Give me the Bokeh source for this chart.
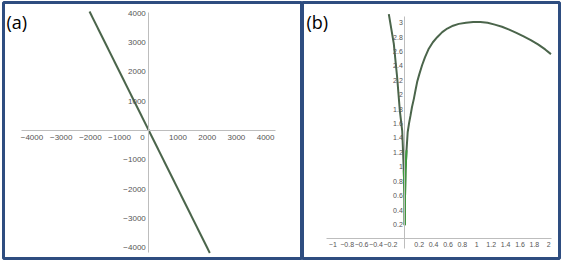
from bokeh.plotting import figure
from bokeh.models import LinearAxis, FixedTicker, CustomJSTickFormatter, Label, Range1d
from bokeh.layouts import row
from bokeh.embed import file_html
from bokeh.resources import INLINE

# ---------------- data ----------------
# panel (a): straight line
a_x = [-2030, 2090]
a_y = [4060, -4180]
a_ticks = [-4000, -3000, -2000, -1000, 1000, 2000, 3000, 4000]

# panel (b): right branch
b_right_x = [0.0, 0.003, 0.01, 0.024, 0.04, 0.06, 0.079, 0.1, 0.125, 0.15, 0.172, 0.2,
             0.24, 0.28, 0.333, 0.39, 0.45, 0.52, 0.59, 0.67, 0.75, 0.85, 0.95, 1.05,
             1.15, 1.25, 1.35, 1.45, 1.55, 1.65, 1.75, 1.85, 1.95, 2.03]
b_right_y = [0.19, 0.58, 0.95, 1.23, 1.48, 1.61, 1.71, 1.83, 1.94, 2.07, 2.18, 2.28,
             2.41, 2.52, 2.64, 2.73, 2.80, 2.87, 2.92, 2.96, 2.985, 3.0, 3.01, 3.01,
             3.0, 2.975, 2.945, 2.905, 2.86, 2.81, 2.76, 2.70, 2.63, 2.565]
# panel (b): left branch
b_left_x = [0.0, -0.004, -0.014, -0.036, -0.069, -0.106, -0.153, -0.222]
b_left_y = [0.19, 0.6, 0.95, 1.50, 1.78, 2.24, 2.71, 3.12]

b_xticks = [-1, -0.8, -0.6, -0.4, -0.2, 0.2, 0.4, 0.6, 0.8, 1, 1.2, 1.4, 1.6, 1.8, 2]
b_yticks = [0.2, 0.4, 0.6, 0.8, 1, 1.2, 1.4, 1.6, 1.8, 2, 2.2, 2.4, 2.6, 2.8, 3]

# ---------------- style ----------------
BORDER = "#2E4D80"
LINE = "#4B654B"
GREEN = "#3E9A3E"
AXIS = "#BDBDBD"
TXT = "#555555"

fmt_code = "return (tick < 0 ? '\u2212' : '') + Math.abs(tick).toString()"


def make_axis(loc, ticks, bounds, size, standoff):
    ax = LinearAxis(fixed_location=loc)
    ax.ticker = FixedTicker(ticks=ticks)
    ax.formatter = CustomJSTickFormatter(code=fmt_code)
    ax.bounds = bounds
    ax.axis_line_color = AXIS
    ax.axis_line_width = 1
    ax.major_tick_line_color = None
    ax.minor_tick_line_color = None
    ax.major_tick_out = 0
    ax.major_tick_in = 0
    ax.major_label_text_font = "Liberation Sans"
    ax.major_label_text_font_size = size
    ax.major_label_text_color = TXT
    ax.major_label_standoff = standoff
    return ax


# ---------------- panel (a) ----------------
pa = figure(width=302, height=264, output_backend="svg", toolbar_location=None,
            x_axis_type=None, y_axis_type=None,
            x_range=Range1d(-4976, 5264), y_range=Range1d(-4369, 4369),
            min_border_left=3, min_border_right=0, min_border_top=2, min_border_bottom=6)
pa.background_fill_color = "white"
pa.border_fill_color = "white"
pa.outline_line_color = BORDER
pa.outline_line_width = 3
pa.add_layout(make_axis(0, a_ticks, (-4360, 4340), "8px", 4), "below")
pa.add_layout(make_axis(0, a_ticks, (-4160, 4030), "8px", 3), "left")
pa.line(a_x, a_y, line_color=LINE, line_width=2)
pa.add_layout(Label(x=0, y=0, x_offset=-4, y_offset=-4, text="0", text_align="right",
                    text_baseline="top", text_font="Liberation Sans",
                    text_font_size="8px", text_color=TXT))
pa.add_layout(Label(x=3, y=249, x_units="screen", y_units="screen", text="(a)",
                    text_align="left", text_baseline="top", text_font="Open Sans",
                    text_font_size="18px", text_color="black"))

# ---------------- panel (b) ----------------
pb = figure(width=264, height=264, output_backend="svg", toolbar_location=None,
            x_axis_type=None, y_axis_type=None,
            x_range=Range1d(-1.4208, 2.1486), y_range=Range1d(-0.2736, 3.2819),
            min_border_left=0, min_border_right=7, min_border_top=2, min_border_bottom=6)
pb.background_fill_color = "white"
pb.border_fill_color = "white"
pb.outline_line_color = BORDER
pb.outline_line_width = 3
pb.add_layout(make_axis(0, b_xticks, (-1.09, 2.04), "7px", 3), "below")
pb.add_layout(make_axis(0, b_yticks, (-0.135, 3.09), "7px", 2), "left")
pb.line(b_right_x, b_right_y, line_color=LINE, line_width=2)
pb.line(b_left_x, b_left_y, line_color=LINE, line_width=2)
lo_r = [(x, y) for x, y in zip(b_right_x, b_right_y) if y <= 1.3]
lo_l = [(x, y) for x, y in zip(b_left_x, b_left_y) if y <= 1.3]
pb.line([p[0] for p in lo_r], [p[1] for p in lo_r], line_color=GREEN, line_width=2)
pb.line([p[0] for p in lo_l], [p[1] for p in lo_l], line_color=GREEN, line_width=2)
pb.add_layout(Label(x=4, y=249, x_units="screen", y_units="screen", text="(b)",
                    text_align="left", text_baseline="top", text_font="Open Sans",
                    text_font_size="18px", text_color="black"))

layout = row(pa, pb, spacing=0)
open("out.html", "w").write(file_html(layout, INLINE))
